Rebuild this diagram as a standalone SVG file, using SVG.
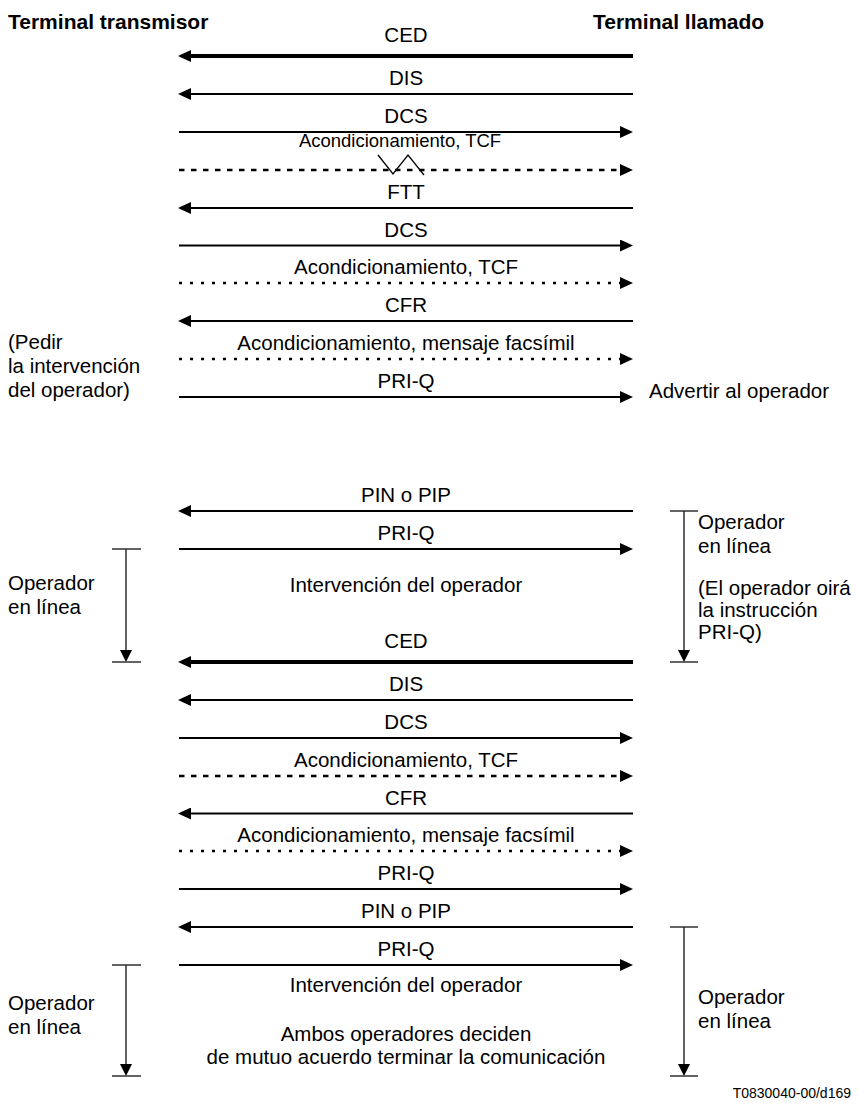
<svg xmlns="http://www.w3.org/2000/svg" width="858" height="1106" viewBox="0 0 858 1106">
<style>
text{font-family:"Liberation Sans",Arial,sans-serif;font-size:20.5px;fill:#000}
.h{font-weight:bold;font-size:21px}
.c{text-anchor:middle}
.s{font-size:18.5px}
.ref{font-size:14px;text-anchor:end}
.m{stroke:#000;stroke-width:2;fill:none}
.thick{stroke-width:4}
.dash{stroke-width:2.7;stroke-dasharray:5.5 6.5}
.dot{stroke-width:2.7;stroke-dasharray:3 8}
.br{stroke:#222;stroke-width:1.4;fill:none}
.zz{stroke:#000;stroke-width:1.3;fill:none}
</style>
<defs>
<marker id="ah" markerUnits="userSpaceOnUse" markerWidth="14" markerHeight="12" refX="3" refY="6" orient="auto">
<path d="M0,0 L13,6 L0,12 z" fill="#000"/>
</marker>
</defs>

<g id="headers">
<text class="h" x="8" y="29">Terminal transmisor</text>
<text class="h" x="593" y="29">Terminal llamado</text>
</g>

<g id="connectors">
<line class="m thick" x1="633" y1="56" x2="188" y2="56" marker-end="url(#ah)"/>
<line class="m" x1="633" y1="94" x2="188" y2="94" marker-end="url(#ah)"/>
<line class="m" x1="179" y1="132" x2="623" y2="132" marker-end="url(#ah)"/>
<line class="m dash" x1="179" y1="170" x2="623" y2="170" marker-end="url(#ah)"/>
<polyline class="zz" points="378,155 393,174 408,155 424,175"/>
<line class="m" x1="633" y1="208" x2="188" y2="208" marker-end="url(#ah)"/>
<line class="m" x1="179" y1="245.5" x2="623" y2="245.5" marker-end="url(#ah)"/>
<line class="m dot" x1="179" y1="283" x2="623" y2="283" marker-end="url(#ah)"/>
<line class="m" x1="633" y1="321" x2="188" y2="321" marker-end="url(#ah)"/>
<line class="m dot" x1="179" y1="359" x2="623" y2="359" marker-end="url(#ah)"/>
<line class="m" x1="179" y1="397" x2="623" y2="397" marker-end="url(#ah)"/>

<line class="m" x1="633" y1="511" x2="188" y2="511" marker-end="url(#ah)"/>
<line class="m" x1="179" y1="549" x2="623" y2="549" marker-end="url(#ah)"/>
<line class="m thick" x1="633" y1="662" x2="188" y2="662" marker-end="url(#ah)"/>
<line class="m" x1="633" y1="700" x2="188" y2="700" marker-end="url(#ah)"/>
<line class="m" x1="179" y1="738" x2="623" y2="738" marker-end="url(#ah)"/>
<line class="m dash" x1="179" y1="776" x2="623" y2="776" marker-end="url(#ah)"/>
<line class="m" x1="633" y1="813.5" x2="188" y2="813.5" marker-end="url(#ah)"/>
<line class="m dot" x1="179" y1="851" x2="623" y2="851" marker-end="url(#ah)"/>
<line class="m" x1="179" y1="889" x2="623" y2="889" marker-end="url(#ah)"/>
<line class="m" x1="633" y1="927" x2="188" y2="927" marker-end="url(#ah)"/>
<line class="m" x1="179" y1="965" x2="623" y2="965" marker-end="url(#ah)"/>

<g id="brackets">
<line class="br" x1="112" y1="549" x2="141" y2="549"/>
<line class="br" x1="126" y1="549" x2="126" y2="652"/>
<polygon points="120,650 132,650 126,662" fill="#000"/>
<line class="br" x1="112" y1="662" x2="141" y2="662"/>

<line class="br" x1="670" y1="511" x2="698" y2="511"/>
<line class="br" x1="684" y1="511" x2="684" y2="652"/>
<polygon points="678,650 690,650 684,662" fill="#000"/>
<line class="br" x1="670" y1="662" x2="698" y2="662"/>

<line class="br" x1="112" y1="965" x2="141" y2="965"/>
<line class="br" x1="126" y1="965" x2="126" y2="1066"/>
<polygon points="120,1064 132,1064 126,1076" fill="#000"/>
<line class="br" x1="112" y1="1076" x2="141" y2="1076"/>

<line class="br" x1="670" y1="927" x2="698" y2="927"/>
<line class="br" x1="684" y1="927" x2="684" y2="1066"/>
<polygon points="678,1064 690,1064 684,1076" fill="#000"/>
<line class="br" x1="670" y1="1076" x2="698" y2="1076"/>
</g>
</g>

<g id="labels">
<text class="c" x="406" y="42">CED</text>
<text class="c" x="406" y="85">DIS</text>
<text class="c" x="406" y="123">DCS</text>
<text class="c s" x="400" y="147">Acondicionamiento, TCF</text>
<text class="c" x="406" y="199">FTT</text>
<text class="c" x="406" y="236.5">DCS</text>
<text class="c" x="406" y="274">Acondicionamiento, TCF</text>
<text class="c" x="406" y="312">CFR</text>
<text class="c" x="406" y="350">Acondicionamiento, mensaje facsímil</text>
<text class="c" x="406" y="388">PRI-Q</text>

<text class="c" x="406" y="502">PIN o PIP</text>
<text class="c" x="406" y="540">PRI-Q</text>
<text class="c" x="406" y="592">Intervención del operador</text>
<text class="c" x="406" y="648">CED</text>
<text class="c" x="406" y="691">DIS</text>
<text class="c" x="406" y="729">DCS</text>
<text class="c" x="406" y="767">Acondicionamiento, TCF</text>
<text class="c" x="406" y="804.5">CFR</text>
<text class="c" x="406" y="842">Acondicionamiento, mensaje facsímil</text>
<text class="c" x="406" y="880">PRI-Q</text>
<text class="c" x="406" y="918">PIN o PIP</text>
<text class="c" x="406" y="956">PRI-Q</text>
<text class="c" x="406" y="992">Intervención del operador</text>
<text class="c" x="406" y="1041">Ambos operadores deciden</text>
<text class="c" x="406" y="1064">de mutuo acuerdo terminar la comunicación</text>
</g>

<g id="side-notes">
<text x="8" y="349">(Pedir</text>
<text x="8" y="373">la intervención</text>
<text x="8" y="397">del operador)</text>
<text x="649" y="398">Advertir al operador</text>

<text x="698" y="529">Operador</text>
<text x="698" y="553">en línea</text>
<text x="698" y="595">(El operador oirá</text>
<text x="698" y="617">la instrucción</text>
<text x="698" y="639">PRI-Q)</text>

<text x="8" y="590">Operador</text>
<text x="8" y="614">en línea</text>

<text x="8" y="1010">Operador</text>
<text x="8" y="1034">en línea</text>
<text x="698" y="1004">Operador</text>
<text x="698" y="1028">en línea</text>

<text class="ref" x="851" y="1098">T0830040-00/d169</text>
</g>
</svg>
